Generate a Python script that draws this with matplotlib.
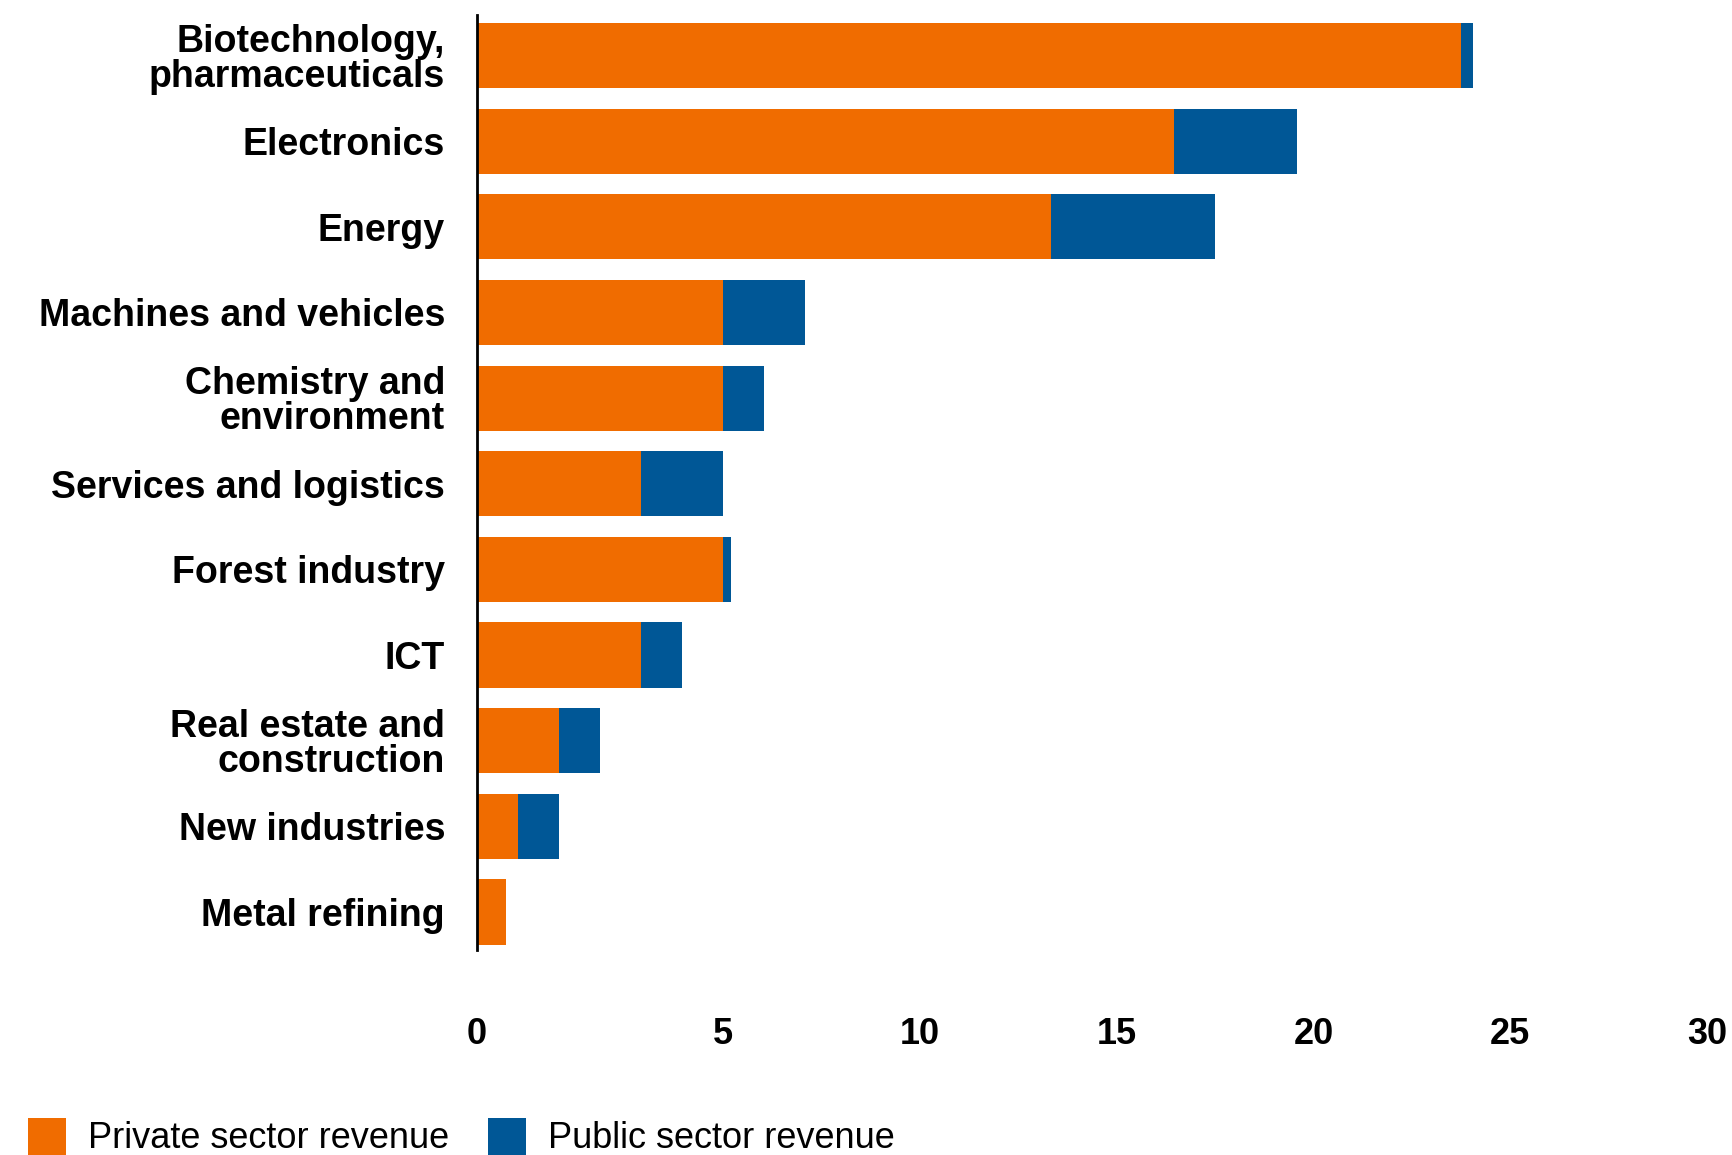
import matplotlib
matplotlib.use("Agg")
import matplotlib.pyplot as plt
from matplotlib.patches import Patch

plt.rcParams['font.family'] = ['Liberation Sans', 'DejaVu Sans']

categories = ["Biotechnology,\npharmaceuticals", "Electronics", "Energy",
              "Machines and vehicles", "Chemistry and\nenvironment",
              "Services and logistics", "Forest industry", "ICT",
              "Real estate and\nconstruction", "New industries", "Metal refining"]
private = [24, 17, 14, 6, 6, 4, 6, 4, 2, 1, 0.7]
public = [0.3, 3, 4, 2, 1, 2, 0.2, 1, 1, 1, 0]
tick_labels = ["0", "5", "10", "15", "20", "25", "30"]
series_names = ["Private sector revenue", "Public sector revenue"]

# layout constants (tick label placement as in the reference)
TICK_POS = [0, 6, 10.8, 15.6, 20.4, 25.2, 30]
ORANGE = "#F06C00"
BLUE = "#005796"

fig = plt.figure(figsize=(17.32, 11.55), dpi=100)
ax = fig.add_axes([477/1732, 1-950/1155, (1707-477)/1732, (950-15)/1155])

y = list(range(len(categories)))
ax.barh(y, private, height=0.76, color=ORANGE, linewidth=0)
ax.barh(y, public, left=private, height=0.76, color=BLUE, linewidth=0)

ax.set_xlim(0, 30)
ax.set_ylim(len(categories) - 1 + 0.444, -0.473)
ax.set_yticks(y)
ax.set_yticklabels(categories, fontsize=27, fontweight='bold', linespacing=0.97)
ax.set_xticks(TICK_POS)
ax.set_xticklabels(tick_labels, fontsize=26, fontweight='bold')
ax.tick_params(axis='y', length=0, pad=23)
ax.tick_params(axis='x', length=0, pad=48)

for s in ['top', 'right', 'bottom']:
    ax.spines[s].set_visible(False)
ax.spines['left'].set_linewidth(2)
ax.spines['left'].set_color('black')

handles = [Patch(facecolor=ORANGE, edgecolor='none'), Patch(facecolor=BLUE, edgecolor='none')]
fig.legend(handles, series_names, loc='center left',
           bbox_to_anchor=(28/1732, 1-1137/1155), ncol=2, frameon=False,
           fontsize=26, handlelength=1.05, handleheight=1.2,
           handletextpad=0.6, columnspacing=1.1, borderpad=0, borderaxespad=0)

fig.savefig("out.png", dpi=100)
